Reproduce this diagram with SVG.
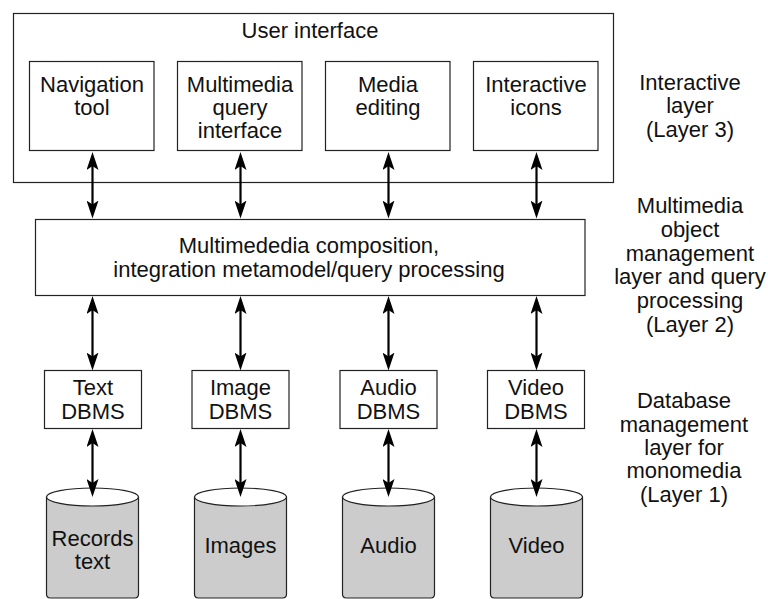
<svg xmlns="http://www.w3.org/2000/svg" width="768" height="599" viewBox="0 0 768 599">
  <style>
    .box { fill: #ffffff; stroke: #222222; stroke-width: 1.2; }
    .cyl { fill: #cccccc; stroke: #222222; stroke-width: 1.2; }
    .top { fill: #ffffff; stroke: #222222; stroke-width: 1.2; }
    .t { font-family: "Liberation Sans", Arial, Helvetica, sans-serif; font-size: 22px; fill: #111111; text-anchor: middle; }
    .link { stroke: #000000; stroke-width: 2.2; fill: none; marker-start: url(#ah); marker-end: url(#ah); }
  </style>
  <defs>
    <marker id="ah" viewBox="0 0 18 12" refX="10" refY="6" markerWidth="18" markerHeight="12" markerUnits="userSpaceOnUse" orient="auto-start-reverse">
      <path d="M0,0 L18,6 L0,12 L4,6 Z" fill="#000000"/>
    </marker>
  </defs>

  <rect width="768" height="599" fill="#ffffff"/>

  <!-- Layer 3: user interface -->
  <g id="user-interface">
    <rect class="box" x="13.5" y="13.5" width="600" height="169"/>
    <text class="t" x="310" y="37.5">User interface</text>
  </g>
  <g id="navigation-tool">
    <rect class="box" x="29.5" y="61.5" width="124.5" height="89"/>
    <text class="t" x="92" y="91.5">Navigation</text>
    <text class="t" x="92" y="115">tool</text>
  </g>
  <g id="multimedia-query-interface">
    <rect class="box" x="177.5" y="61.5" width="124.5" height="89"/>
    <text class="t" x="240" y="91.5">Multimedia</text>
    <text class="t" x="240" y="115">query</text>
    <text class="t" x="240" y="138">interface</text>
  </g>
  <g id="media-editing">
    <rect class="box" x="325.5" y="61.5" width="124.5" height="89"/>
    <text class="t" x="388" y="91.5">Media</text>
    <text class="t" x="388" y="115">editing</text>
  </g>
  <g id="interactive-icons">
    <rect class="box" x="473.5" y="61.5" width="124.5" height="89"/>
    <text class="t" x="536" y="91.5">Interactive</text>
    <text class="t" x="536" y="115">icons</text>
  </g>

  <!-- Layer 2: composition / query processing -->
  <g id="composition">
    <rect class="box" x="35.5" y="219.5" width="549.5" height="76"/>
    <text class="t" x="309" y="252.5">Multimededia composition,</text>
    <text class="t" x="309" y="276.5">integration metamodel/query processing</text>
  </g>

  <!-- Layer 1: monomedia DBMS -->
  <g id="text-dbms">
    <rect class="box" x="44.5" y="370.5" width="97" height="58"/>
    <text class="t" x="93" y="395">Text</text>
    <text class="t" x="93" y="418.5">DBMS</text>
  </g>
  <g id="image-dbms">
    <rect class="box" x="192" y="370.5" width="97" height="58"/>
    <text class="t" x="240.5" y="395">Image</text>
    <text class="t" x="240.5" y="418.5">DBMS</text>
  </g>
  <g id="audio-dbms">
    <rect class="box" x="340" y="370.5" width="97" height="58"/>
    <text class="t" x="388.5" y="395">Audio</text>
    <text class="t" x="388.5" y="418.5">DBMS</text>
  </g>
  <g id="video-dbms">
    <rect class="box" x="487.5" y="370.5" width="97" height="58"/>
    <text class="t" x="536" y="395">Video</text>
    <text class="t" x="536" y="418.5">DBMS</text>
  </g>

  <!-- Data stores -->
  <g id="records-store">
    <path class="cyl" d="M46.5,497 L46.5,594 Q46.5,598 50.5,598 L134.5,598 Q138.5,598 138.5,594 L138.5,497 Z"/>
    <ellipse class="top" cx="92.5" cy="497" rx="46" ry="9"/>
    <text class="t" x="92.5" y="545.5">Records</text>
    <text class="t" x="92.5" y="569">text</text>
  </g>
  <g id="images-store">
    <path class="cyl" d="M194.5,497 L194.5,594 Q194.5,598 198.5,598 L282.5,598 Q286.5,598 286.5,594 L286.5,497 Z"/>
    <ellipse class="top" cx="240.5" cy="497" rx="46" ry="9"/>
    <text class="t" x="240.5" y="553">Images</text>
  </g>
  <g id="audio-store">
    <path class="cyl" d="M342.5,497 L342.5,594 Q342.5,598 346.5,598 L430.5,598 Q434.5,598 434.5,594 L434.5,497 Z"/>
    <ellipse class="top" cx="388.5" cy="497" rx="46" ry="9"/>
    <text class="t" x="388.5" y="553">Audio</text>
  </g>
  <g id="video-store">
    <path class="cyl" d="M490.5,497 L490.5,594 Q490.5,598 494.5,598 L578.5,598 Q582.5,598 582.5,594 L582.5,497 Z"/>
    <ellipse class="top" cx="536.5" cy="497" rx="46" ry="9"/>
    <text class="t" x="536.5" y="553">Video</text>
  </g>

  <!-- Layer captions -->
  <g id="layer3-caption">
    <text class="t" x="690" y="90">Interactive</text>
    <text class="t" x="690" y="113.3">layer</text>
    <text class="t" x="690" y="136.7">(Layer 3)</text>
  </g>
  <g id="layer2-caption">
    <text class="t" x="690" y="213.3">Multimedia</text>
    <text class="t" x="690" y="237">object</text>
    <text class="t" x="690" y="260.7">management</text>
    <text class="t" x="690" y="284.3">layer and query</text>
    <text class="t" x="690" y="308">processing</text>
    <text class="t" x="690" y="331.7">(Layer 2)</text>
  </g>
  <g id="layer1-caption">
    <text class="t" x="684" y="408.3">Database</text>
    <text class="t" x="684" y="431.7">management</text>
    <text class="t" x="684" y="455">layer for</text>
    <text class="t" x="684" y="478.3">monomedia</text>
    <text class="t" x="684" y="501.7">(Layer 1)</text>
  </g>

  <!-- Two-way connectors between layers -->
  <g id="connectors">
    <line class="link" x1="92.5" y1="160" x2="92.5" y2="210.5"/>
    <line class="link" x1="240.5" y1="160" x2="240.5" y2="210.5"/>
    <line class="link" x1="388.5" y1="160" x2="388.5" y2="210.5"/>
    <line class="link" x1="536.5" y1="160" x2="536.5" y2="210.5"/>

    <line class="link" x1="92.5" y1="304" x2="92.5" y2="362.5"/>
    <line class="link" x1="240.5" y1="304" x2="240.5" y2="362.5"/>
    <line class="link" x1="388.5" y1="304" x2="388.5" y2="362.5"/>
    <line class="link" x1="536.5" y1="304" x2="536.5" y2="362.5"/>

    <line class="link" x1="92.5" y1="437" x2="92.5" y2="489"/>
    <line class="link" x1="240.5" y1="437" x2="240.5" y2="489"/>
    <line class="link" x1="388.5" y1="437" x2="388.5" y2="489"/>
    <line class="link" x1="536.5" y1="437" x2="536.5" y2="489"/>
  </g>
</svg>
